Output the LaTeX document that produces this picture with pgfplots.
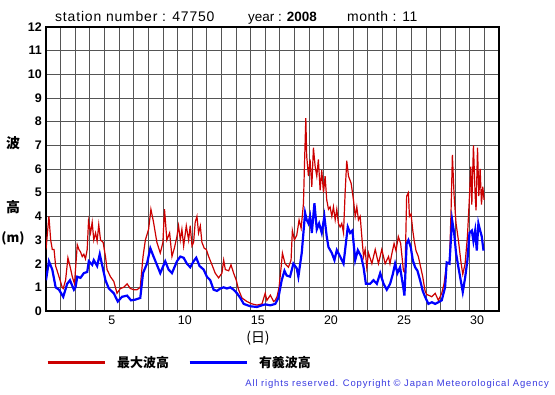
\documentclass[border=0pt]{standalone}
\usepackage{fontspec}
\setmainfont{Liberation Sans}
\newfontfamily\jp{Noto Sans CJK JP}
\usepackage{pgfplots}
\pgfplotsset{compat=1.18}
\definecolor{wred}{HTML}{CC0000}
\definecolor{wblue}{HTML}{0000FF}
\definecolor{cblue}{HTML}{3A3AE0}
\definecolor{gridc}{HTML}{555555}

\begin{document}
\begin{tikzpicture}
\useasboundingbox (-46bp,-84bp) rectangle (509bp,311bp);
\begin{axis}[at={(0,0)},anchor=south west,scale only axis,width=453bp,height=284bp,
  xmin=0,xmax=31,ymin=0,ymax=12,
  xtick={4.5,9.5,...,29.5},xticklabels={5,10,15,20,25,30},
  minor xtick={1,2,...,30},ytick={0,1,...,12},
  ymajorgrids,xminorgrids,
  grid style={gridc,line width=0.7bp},
  major tick length=0pt,minor tick length=0pt,
  axis line style={line width=1.6bp},
  /pgf/number format/assume math mode=true,
  xticklabel style={font=\fontsize{12.5}{12.5}\selectfont,inner sep=0pt,anchor=north,yshift=-5bp},
  yticklabel style={font=\bfseries\fontsize{12.5}{12.5}\selectfont,inner sep=0pt,anchor=east,xshift=-4bp},
  legend columns=-1,
  legend image code/.code={\draw[#1,line width=3bp] (0bp,0bp) -- (57bp,0bp);},
  legend style={at={(0,-0.183)},anchor=west,draw=none,fill=none,inner sep=0pt,
    nodes={inner sep=0pt},font=\jp\bfseries\fontsize{13}{13}\selectfont,
    /tikz/every odd column/.append style={column sep=11bp},
    /tikz/every even column/.append style={column sep=19bp}},
]
\addplot[wred,line width=1.2bp] coordinates {(0,2.6)(0.2,4.0)(0.32,3.0)(0.43,2.6)(0.55,2.6)(0.66,1.9)(0.89,1.45)(1.11,1.0)(1.18,0.95)(1.34,1.3)(1.5,2.25)(1.64,1.9)(1.8,1.45)(1.95,1.15)(2.14,2.8)(2.25,2.6)(2.36,2.5)(2.48,2.3)(2.59,2.4)(2.7,2.2)(2.82,2.6)(2.91,3.8)(3.05,3.3)(3.16,3.75)(3.27,3.0)(3.39,3.3)(3.5,2.95)(3.61,3.65)(3.73,3.0)(3.91,2.9)(4.07,2.3)(4.18,1.75)(4.41,1.45)(4.64,1.25)(4.86,0.75)(5.09,0.95)(5.32,1.0)(5.55,1.15)(5.77,0.95)(6.0,0.9)(6.23,0.9)(6.45,1.0)(6.64,2.3)(6.8,3.0)(7.02,3.45)(7.18,4.3)(7.36,3.75)(7.59,2.9)(7.82,2.45)(8.0,2.9)(8.11,4.3)(8.27,3.0)(8.46,3.3)(8.62,2.3)(8.78,2.65)(8.96,3.15)(9.07,3.6)(9.19,3.0)(9.3,3.45)(9.42,2.75)(9.6,3.6)(9.76,3.0)(9.87,3.6)(9.99,2.75)(10.1,2.9)(10.21,3.75)(10.33,4.0)(10.44,3.3)(10.56,3.6)(10.67,2.9)(10.83,2.65)(10.97,2.6)(11.13,2.3)(11.36,1.95)(11.58,1.6)(11.81,1.4)(12.04,1.6)(12.16,2.15)(12.27,1.75)(12.5,1.7)(12.66,1.95)(12.84,1.6)(13.02,1.3)(13.18,0.9)(13.41,0.55)(13.75,0.4)(14.1,0.3)(14.44,0.25)(14.78,0.3)(15.0,0.75)(15.12,0.45)(15.35,0.67)(15.58,0.4)(15.68,0.45)(15.81,0.6)(15.95,1.0)(16.09,1.85)(16.18,2.45)(16.36,2.0)(16.59,1.85)(16.77,2.15)(16.86,3.4)(17.0,3.0)(17.16,3.2)(17.32,3.85)(17.46,3.5)(17.62,4.55)(17.68,6.0)(17.78,8.15)(17.84,6.55)(17.96,5.7)(18.07,6.4)(18.19,5.25)(18.3,6.9)(18.42,6.1)(18.53,5.7)(18.64,6.4)(18.76,5.1)(18.87,5.95)(18.99,5.0)(19.1,5.7)(19.21,4.7)(19.33,4.3)(19.44,4.4)(19.56,4.0)(19.67,4.4)(19.79,3.85)(19.9,4.3)(20.01,3.7)(20.13,3.55)(20.24,3.7)(20.36,3.3)(20.47,5.0)(20.58,6.35)(20.7,5.7)(20.88,5.4)(21.04,4.7)(21.16,4.0)(21.27,4.4)(21.38,3.85)(21.5,4.0)(21.61,3.15)(21.73,2.3)(21.84,2.6)(21.95,1.85)(22.07,2.45)(22.3,2.0)(22.53,2.6)(22.75,2.0)(22.98,2.6)(23.21,2.0)(23.44,2.3)(23.54,2.0)(23.66,2.4)(23.82,2.85)(23.95,2.55)(24.11,3.15)(24.27,2.85)(24.46,1.7)(24.57,1.6)(24.68,4.85)(24.8,5.0)(24.87,4.0)(24.98,4.1)(25.1,3.4)(25.19,3.0)(25.32,2.55)(25.48,2.3)(25.64,1.85)(25.78,1.45)(25.94,0.85)(26.05,0.7)(26.24,0.65)(26.4,0.6)(26.63,0.75)(26.85,0.45)(27.08,0.75)(27.24,1.15)(27.42,2.0)(27.61,2.0)(27.72,4.25)(27.81,6.6)(27.93,4.85)(28.06,3.7)(28.22,3.0)(28.38,2.15)(28.52,1.55)(28.68,2.0)(28.84,3.15)(28.98,4.85)(29.07,6.1)(29.14,4.5)(29.25,7.0)(29.37,4.85)(29.43,4.25)(29.53,6.9)(29.62,4.85)(29.71,6.0)(29.8,4.5)(29.89,5.25)(29.98,4.7)};
\addlegendentry{最大波高}
\addplot[wblue,line width=2.2bp] coordinates {(0,1.3)(0.2,2.1)(0.43,1.75)(0.66,1.0)(0.89,0.9)(1.18,0.6)(1.45,1.15)(1.64,1.3)(1.91,0.9)(2.02,1.0)(2.14,1.45)(2.36,1.4)(2.59,1.6)(2.82,1.65)(2.93,2.1)(3.16,1.95)(3.27,2.15)(3.5,1.9)(3.68,2.4)(3.91,1.75)(4.07,1.3)(4.3,0.95)(4.64,0.75)(4.91,0.4)(5.2,0.6)(5.55,0.65)(5.82,0.45)(6.11,0.48)(6.45,0.55)(6.64,1.6)(6.91,2.0)(7.14,2.65)(7.36,2.3)(7.59,1.95)(7.82,1.6)(8.16,2.1)(8.39,1.75)(8.62,1.6)(8.96,2.1)(9.19,2.3)(9.42,2.25)(9.64,2.0)(9.87,1.85)(10.1,2.1)(10.28,2.25)(10.51,1.9)(10.79,1.75)(11.01,1.45)(11.24,1.3)(11.47,0.9)(11.7,0.85)(11.93,0.95)(12.16,1.0)(12.38,0.95)(12.61,1.0)(12.84,0.9)(13.07,0.75)(13.3,0.55)(13.53,0.3)(13.98,0.2)(14.44,0.17)(14.78,0.24)(15.0,0.28)(15.35,0.24)(15.69,0.3)(15.9,0.55)(16.13,1.3)(16.32,1.7)(16.47,1.5)(16.7,1.45)(16.93,2.0)(17.16,1.8)(17.27,1.45)(17.5,2.45)(17.73,4.15)(17.84,3.85)(17.96,3.7)(18.07,4.0)(18.19,3.3)(18.37,4.55)(18.53,3.45)(18.69,3.7)(18.87,3.3)(19.05,4.0)(19.21,3.15)(19.33,2.7)(19.56,2.45)(19.74,2.15)(19.9,2.57)(20.13,2.3)(20.36,2.0)(20.52,2.85)(20.65,3.55)(20.81,3.3)(20.97,3.4)(21.16,2.15)(21.34,2.57)(21.57,2.3)(21.73,1.85)(21.89,1.15)(22.18,1.15)(22.41,1.3)(22.64,1.15)(22.87,1.6)(23.1,1.15)(23.32,0.9)(23.55,1.15)(23.73,1.55)(23.89,2.0)(24.05,1.6)(24.23,1.85)(24.41,1.15)(24.53,0.65)(24.68,2.85)(24.8,3.0)(24.96,2.7)(25.1,2.15)(25.26,1.85)(25.42,1.7)(25.6,1.3)(25.78,0.85)(25.94,0.6)(26.17,0.3)(26.4,0.37)(26.63,0.3)(26.85,0.37)(27.08,0.45)(27.31,1.0)(27.42,2.05)(27.61,2.0)(27.79,3.85)(27.93,3.3)(28.06,2.45)(28.22,1.85)(28.38,1.3)(28.52,0.8)(28.68,1.4)(28.84,2.15)(28.98,3.3)(29.14,3.4)(29.25,2.95)(29.37,3.4)(29.48,2.55)(29.59,3.7)(29.71,3.4)(29.82,3.15)(29.94,2.55)};
\addlegendentry{有義波高}
\end{axis}
% title line
\node[anchor=base west,inner sep=0pt,font=\fontsize{14}{14}\selectfont\addfontfeature{LetterSpace=6}] at (9bp,289bp) {station number : 47750};
\node[anchor=base west,inner sep=0pt,font=\fontsize{13.5}{13.5}\selectfont] at (202bp,289bp) {year : \textbf{2008}};
\node[anchor=base west,inner sep=0pt,font=\fontsize{14}{14}\selectfont\addfontfeature{LetterSpace=4}] at (301bp,289bp) {month : 11};
% axis labels
\node[font=\jp\bfseries\fontsize{14}{14}\selectfont] at (-33bp,168bp) {波};
\node[font=\jp\bfseries\fontsize{14}{14}\selectfont] at (-33bp,104bp) {高};
\node[font=\jp\bfseries\fontsize{13}{13}\selectfont] at (-33bp,73bp) {(m)};
\node[font=\jp\fontsize{14}{14}\selectfont] at (212bp,-27bp) {(日)};
% copyright
\node[anchor=east,inner sep=0pt,text=cblue,font=\fontsize{9.5}{9.5}\selectfont\addfontfeature{LetterSpace=9}] at (503bp,-73bp) {All rights reserved. Copyright © Japan Meteorological Agency};
\end{tikzpicture}
\end{document}
